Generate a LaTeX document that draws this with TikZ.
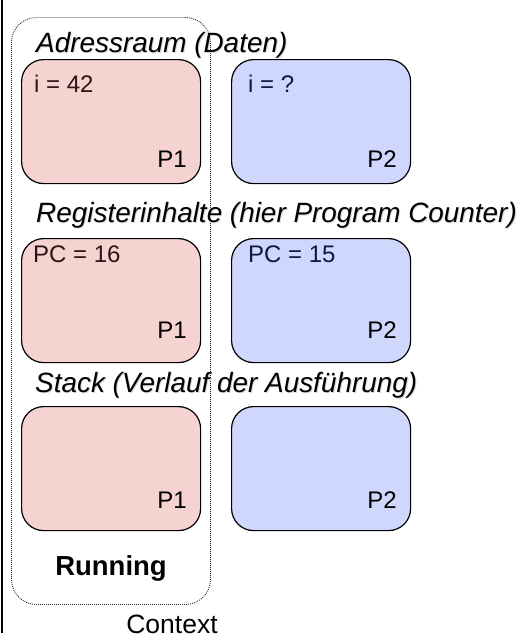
\documentclass[tikz,border=0pt]{standalone}
\usepackage{fontspec}
\setmainfont{Liberation Sans}
\definecolor{pinkfill}{RGB}{245,211,208}
\definecolor{bluefill}{RGB}{207,216,252}
\definecolor{pinktext}{RGB}{50,20,20}
\definecolor{bluetext}{RGB}{16,24,60}
\tikzset{
  procbox/.style={draw=black, line width=1.2pt, rounded corners=22pt, minimum width=179pt, minimum height=124pt, anchor=north west, inner sep=0pt},
  pinkbox/.style={procbox, fill=pinkfill},
  bluebox/.style={procbox, fill=bluefill},
  title/.style={font=\fontsize{27.9pt}{30pt}\selectfont\itshape, anchor=base west, inner sep=0pt},
  titleshadow/.style={title, text=black!15},
  boxlabel/.style={font=\fontsize{24pt}{26pt}\selectfont, inner sep=0pt},
  ctxbox/.style={draw=black!85, line width=0.9pt, dash pattern=on 0.9pt off 1.1pt, rounded corners=25pt, minimum width=199pt, minimum height=587pt, anchor=north west, inner sep=0pt}
}
\begin{document}
\begin{tikzpicture}[x=1pt,y=-1pt]
\useasboundingbox (0,0) rectangle (524,641);
% left bar
\coordinate (bartop) at (1.5,0);
\coordinate (barbot) at (1.5,633);
\draw[line width=2pt] (bartop) -- (barbot);
% context box
\node[ctxbox] (ctx) at (11,17) {};
% titles
\node[titleshadow] (t1s) at (37,53) {Adressraum (Daten)};
\node[title] (t1) at (36,52) {Adressraum (Daten)};
\node[titleshadow] (t2s) at (37,223) {Registerinhalte (hier Program Counter)};
\node[title] (t2) at (36,222) {Registerinhalte (hier Program Counter)};
\node[titleshadow] (t3s) at (36,393) {Stack (Verlauf der Ausführung)};
\node[title] (t3) at (35,392) {Stack (Verlauf der Ausführung)};
% row 1
\node[pinkbox] (a1) at (21,59) {};
\node[bluebox] (b1) at (231,59) {};
\node[boxlabel, text=pinktext, anchor=base west] (a1v) at (34,92) {i = 42};
\node[boxlabel, text=bluetext, anchor=base west] (b1v) at (248,92) {i = ?};
\node[boxlabel, anchor=base east] (a1p) at (187,167) {P1};
\node[boxlabel, anchor=base east] (b1p) at (397,167) {P2};
% row 2
\node[pinkbox] (a2) at (21,238) {};
\node[bluebox] (b2) at (231,238) {};
\node[boxlabel, text=pinktext, anchor=base west] (a2v) at (33,262) {PC = 16};
\node[boxlabel, text=bluetext, anchor=base west] (b2v) at (248,262) {PC = 15};
\node[boxlabel, anchor=base east] (a2p) at (187,338) {P1};
\node[boxlabel, anchor=base east] (b2p) at (397,338) {P2};
% row 3
\node[pinkbox] (a3) at (21,406) {};
\node[bluebox] (b3) at (231,406) {};
\node[boxlabel, anchor=base east] (a3p) at (187,508) {P1};
\node[boxlabel, anchor=base east] (b3p) at (397,508) {P2};
% running / context
\node[font=\fontsize{27.5pt}{30pt}\selectfont\bfseries, anchor=base, inner sep=0pt] (run) at (111,575) {Running};
\node[font=\fontsize{26.5pt}{29pt}\selectfont, anchor=base, inner sep=0pt] (ctxl) at (172,633) {Context};
\end{tikzpicture}
\end{document}
